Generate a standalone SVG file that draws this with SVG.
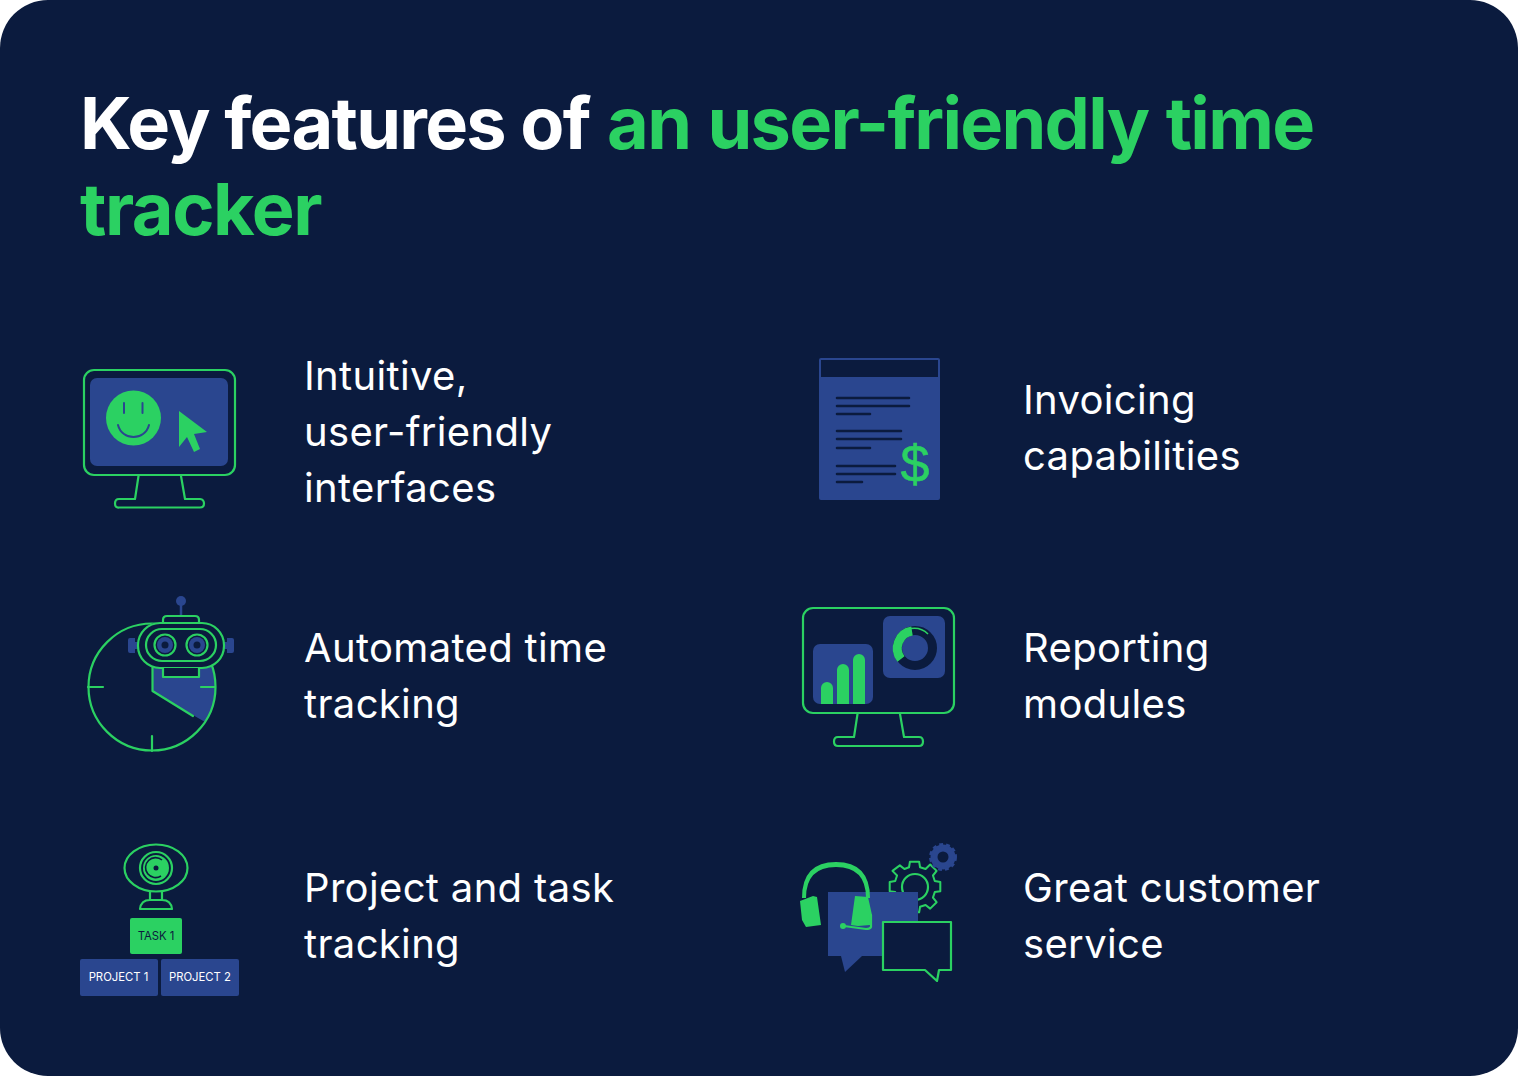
<svg xmlns="http://www.w3.org/2000/svg" width="1518" height="1076" viewBox="0 0 1518 1076">
<style>
.panel{fill:#0b1b3e}
.t{font-family:Inter,"Noto Sans",sans-serif}
.h{font-size:72px;font-weight:700;fill:#fff;letter-spacing:-1.44px}
.g{fill:#2bd162}
.b{font-size:40px;font-weight:400;fill:#fff;letter-spacing:.34px}
.ol{fill:none;stroke:#2bd162;stroke-width:2.2;stroke-linejoin:round;stroke-linecap:round}
.blue{fill:#2a468f}
.dk{fill:none;stroke:#0b1b3e;stroke-width:2.6;stroke-linecap:round}
.gf{fill:#2bd162}
.lbl{font-size:11.300px;fill:#fff;text-anchor:middle}
</style>
<rect class="panel" width="1518" height="1076" rx="48"/>
<g id="title" class="t">
<text class="h" x="80" y="149" style="letter-spacing:-1.7px">Key features of <tspan class="g" dx="2" style="word-spacing:1.800px">an user-friendly time</tspan></text>
<text class="h g" x="80" y="235">tracker</text>
</g>
<g id="node-interfaces">
<rect class="ol" x="84" y="370" width="151" height="105" rx="10"/>
<rect class="blue" x="90" y="378" width="138" height="88" rx="7"/>
<circle class="gf" cx="133.500" cy="418" r="27.500"/>
<path class="dk" style="stroke:#2a468f;stroke-width:2" d="M124 403V413M142.500 403V413M118 425C122 441 145 441 149 425"/>
<path class="gf" d="M179 411L207 432L194 434L200 449L194 452L187 437L179 447Z"/>
<path class="ol" d="M138.500 476L135 499H119Q115 499 115 503.500T119 507.500H200Q204 507.500 204 503.500T200 499H185L181 476"/>
<text class="t b" x="304" y="390">Intuitive,</text>
<text class="t b" x="304" y="446">user-friendly</text>
<text class="t b" x="304" y="502">interfaces</text>
</g>
<g id="node-invoicing">
<rect class="blue" x="819" y="358" width="121" height="142" rx="2"/>
<rect class="panel" x="821" y="360" width="117" height="17"/>
<path class="dk" d="M837 398H909M837 406H909M837 414H870M837 431H901M837 439H901M837 448H870M837 466H895M837 474H895M837 482H862"/>
<text x="915" y="482" font-family="Liberation Sans,sans-serif" font-size="52" text-anchor="middle" class="gf" stroke="#2bd162" stroke-width=".6">$</text>
<text class="t b" x="1023" y="414">Invoicing</text>
<text class="t b" x="1023" y="470">capabilities</text>
</g>
<g id="node-automated">
<path class="blue" d="M153 667H212A63.500 63.500 0 0 1 205 722L153 692Z"/>
<circle class="ol" cx="152" cy="687" r="63.500"/>
<path class="ol" d="M88 687H103M152 751V736M201 687H215"/>
<path class="ol" d="M152.500 666V691L193 716"/>
<rect class="panel" x="138" y="622" width="86" height="46" rx="22"/>
<path class="blue" d="M128 640Q128 638 130 638H135V642H139V649H135V653H130Q128 653 128 651ZM234 640Q234 638 232 638H227V642H223V649H227V653H232Q234 653 234 651Z"/>
<circle class="blue" cx="181" cy="601" r="5"/>
<path d="M181 604V616" stroke="#2a468f" stroke-width="2.500"/>
<path class="ol" d="M163 622V620Q163 616 167 616H195Q199 616 199 620V622"/>
<rect class="ol" x="138" y="623" width="86" height="45" rx="22"/>
<rect class="ol" x="146" y="629" width="70" height="32" rx="16"/>
<circle class="ol" cx="165" cy="645" r="10.500"/><circle class="blue" cx="165" cy="645" r="8"/><circle class="panel" cx="165" cy="645" r="3.500"/>
<circle class="ol" cx="197" cy="645" r="10.500"/><circle class="blue" cx="197" cy="645" r="8"/><circle class="panel" cx="197" cy="645" r="3.500"/>
<path class="ol" style="fill:#0b1b3e" d="M163 668V677H199V668"/>
<text class="t b" x="304" y="662">Automated time</text>
<text class="t b" x="304" y="718">tracking</text>
</g>
<g id="node-reporting">
<rect class="ol" x="803" y="608" width="151" height="105" rx="10"/>
<rect class="blue" x="813" y="644" width="60" height="60" rx="7"/>
<rect class="blue" x="883" y="616" width="62" height="62" rx="7"/>
<path class="gf" d="M821 688A6 6 0 0 1 833 688V704H821ZM837 670A6 6 0 0 1 849 670V704H837ZM853 660A6 6 0 0 1 865 660V704H853Z"/>
<circle cx="915" cy="648" r="17.500" fill="none" stroke="#0b1b3e" stroke-width="9"/>
<path d="M901 659A17.500 17.500 0 0 1 912 631" fill="none" stroke="#2bd162" stroke-width="9"/>
<path d="M911 628.500A20 20 0 0 1 928 634" fill="none" stroke="#2bd162" stroke-width="1.600"/>
<path class="ol" d="M857.500 714L854 737H838Q834 737 834 741.500T838 746H919Q923 746 923 741.500T919 737H904L900 714"/>
<text class="t b" x="1023" y="662">Reporting</text>
<text class="t b" x="1023" y="718">modules</text>
</g>
<g id="node-project">
<ellipse class="ol" cx="156" cy="868" rx="31.500" ry="23.500"/>
<circle class="ol" cx="156" cy="868" r="16"/>
<circle class="gf" cx="156" cy="868" r="13"/>
<path d="M162 860A10 10 0 1 0 161 876" fill="none" stroke="#0b1b3e" stroke-width="1.600"/>
<circle class="panel" cx="156" cy="868" r="2.500"/>
<path class="ol" d="M150 892V900M162 892V900M140 909Q141 900 150 900H162Q171 900 172 909Z"/>
<rect class="gf" x="130" y="918" width="52" height="36" rx="2"/>
<text class="t lbl" x="156" y="940" style="fill:#0b1b3e">TASK 1</text>
<rect class="blue" x="80" y="959" width="78" height="37" rx="2"/>
<text class="t lbl" x="118.500" y="981">PROJECT 1</text>
<rect class="blue" x="161" y="959" width="78" height="37" rx="2"/>
<text class="t lbl" x="200" y="981">PROJECT 2</text>
<text class="t b" x="304" y="902">Project and task</text>
<text class="t b" x="304" y="958">tracking</text>
</g>
<g id="node-service">
<circle class="ol" cx="915" cy="887" r="13"/>
<path class="ol" transform="translate(915 887) scale(.92) translate(-913.500 -887.500)" d="M894 875L889 870L897 864L902 868L907 866L908 860L918 860L919 866L925 868L930 863L937 870L933 875L935 881L941 882V892L935 893L933 899L937 904L930 911L925 907L919 909L918 915H908L907 909L902 907L897 911L890 904L894 899L892 893L886 892V882L892 881Z"/>
<circle cx="943" cy="857" r="9" fill="none" stroke="#2a468f" stroke-width="7"/>
<circle cx="943" cy="857" r="12.500" fill="none" stroke="#2a468f" stroke-width="3" stroke-dasharray="3.800 3.050"/>
<path class="blue" d="M828 892H918V956H862L845 972L841 956H828Z"/>
<path class="gf" d="M802 898Q802 862 836 862Q870 862 870 898H866Q866 867 836 867Q806 867 806 898Z"/>
<path class="gf" d="M800 901L813 896L817 897L821 925L806 927L802 920ZM855 896L868 897L872 915L870 925L858 926L851 925Z"/>
<path class="ol" d="M871 915V927Q870 929 866 929L844 926"/>
<circle class="gf" cx="843" cy="926" r="3"/>
<path class="ol" style="fill:#0b1b3e" d="M883 922H951V970H939L937 981L925 970H883Z"/>
<text class="t b" x="1023" y="902">Great customer</text>
<text class="t b" x="1023" y="958">service</text>
</g>
</svg>
